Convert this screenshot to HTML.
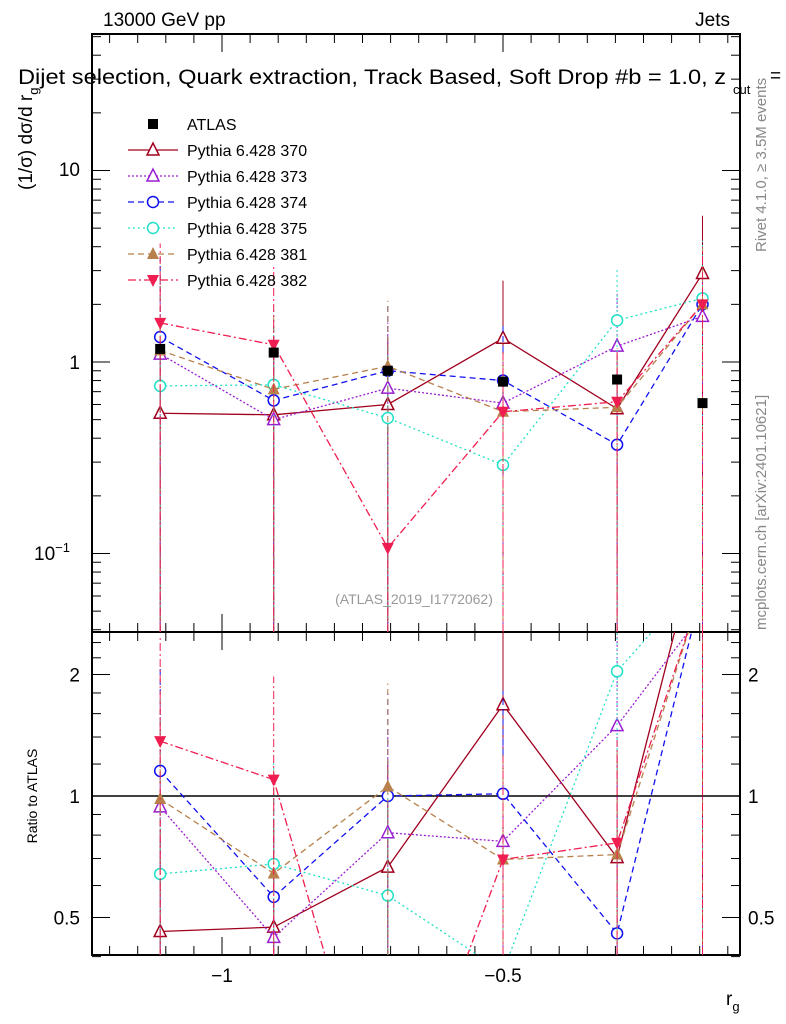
<!DOCTYPE html>
<html><head><meta charset="utf-8"><style>
html,body{margin:0;background:#fff;width:786px;height:1024px;overflow:hidden}
svg{display:block;font-family:"Liberation Sans",sans-serif}
</style></head><body>
<svg id="c" width="786" height="1024"></svg>
<script>
const xs=[-1.11,-0.908,-0.705,-0.5,-0.297,-0.145];
const atlas=[1.17,1.12,0.9,0.79,0.81,0.61];
const names=['Pythia 6.428 370','Pythia 6.428 373','Pythia 6.428 374','Pythia 6.428 375','Pythia 6.428 381','Pythia 6.428 382'];
const s370=[0.54,0.53,0.6,1.33,0.57,2.9];
const s373=[1.1,0.5,0.73,0.61,1.21,1.73];
const s374=[1.35,0.63,0.9,0.8,0.37,2.0];
const s375=[0.75,0.76,0.51,0.29,1.65,2.15];
const s381=[1.15,0.72,0.95,0.55,0.58,2.0];
const s382=[1.6,1.23,0.107,0.55,0.62,2.0];
const errUp=[2.6,2.6,2.2,2.0,1.9,2.0];
const series=[s370,s373,s374,s375,s381,s382];
const colors=['#a0001e','#9a1fd0','#1010f0','#20e0c8','#b8804a','#f01e50'];
const dashes=['','2,2','6,4','2,3','6,4','8,3,2,3'];
const mk=['tri','tri','circ','circ','ftri','itri'];
const NS='http://www.w3.org/2000/svg';
const svg=document.getElementById('c');
const L=92,R=740,T=34,MB=632,RB=955;
const X=v=>222+(v+1)*562;
const Y=v=>362-Math.log10(v)*191.5;
const YR=v=>796-Math.log2(v)*121.5;
function el(t,a,p){const e=document.createElementNS(NS,t);for(const k in a)e.setAttribute(k,a[k]);(p||svg).appendChild(e);return e;}
function txt(x,y,s,a,p){const e=el('text',Object.assign({x:x,y:y},a||{}),p);e.textContent=s;return e;}
const cm=el('clipPath',{id:'cm'});el('rect',{x:L,y:T,width:R-L,height:MB-T},cm);
const cr=el('clipPath',{id:'cr'});el('rect',{x:L,y:MB,width:R-L,height:RB-MB},cr);
const ticks=el('g',{stroke:'#000','stroke-width':1});

for(let v=-1.2;v<=-0.09;v+=0.05){const x=X(v);const maj=Math.abs(v*10-Math.round(v*10))<1e-6&&Math.round(v*10)%5==0;const len=maj?18:9;
 [T,MB].forEach(y=>el('line',{x1:x,x2:x,y1:y,y2:y+len},ticks));[MB,RB].forEach(y=>el('line',{x1:x,x2:x,y1:y,y2:y-len},ticks));}
for(let d=-2;d<=1;d++)for(let m=1;m<10;m++){const v=m*Math.pow(10,d);const y=Y(v);if(y<T||y>MB)continue;const len=m==1?18:9;
 el('line',{x1:L,x2:L+len,y1:y,y2:y},ticks);el('line',{x1:R,x2:R-len,y1:y,y2:y},ticks);}
[0.4,0.5,0.6,0.7,0.8,0.9,1,1.2,1.4,1.6,1.8,2,2.2,2.4].forEach(v=>{const y=YR(v);const len=(v==0.5||v==1||v==2)?18:9;
 el('line',{x1:L,x2:L+len,y1:y,y2:y},ticks);el('line',{x1:R,x2:R-len,y1:y,y2:y},ticks);});
el('rect',{x:L,y:T,width:R-L,height:MB-T,fill:'none',stroke:'#000','stroke-width':2,});
el('rect',{x:L,y:MB,width:R-L,height:RB-MB,fill:'none',stroke:'#000','stroke-width':2,});
el('line',{x1:L,x2:R,y1:YR(1),y2:YR(1),stroke:'#000','stroke-width':1.5,});
txt(80,176,'10',{'font-size':19,'text-anchor':'end'});
txt(80,369,'1',{'font-size':19,'text-anchor':'end'});
const t1=txt(70,560,'10',{'font-size':19,'text-anchor':'end'});const sp=el('tspan',{dy:-8,'font-size':13},t1);sp.textContent='−1';
[[2,'2'],[1,'1'],[0.5,'0.5']].forEach(([v,s])=>{txt(80,YR(v)+7,s,{'font-size':19,'text-anchor':'end'});txt(748,YR(v)+7,s,{'font-size':19});});
txt(X(-1),982,'−1',{'font-size':19,'text-anchor':'middle'});
txt(X(-0.5),982,'−0.5',{'font-size':19,'text-anchor':'middle'});
const xl=txt(726,1005,'r',{'font-size':19});const xs2=el('tspan',{dy:6,'font-size':13},xl);xs2.textContent='g';
txt(103,26,'13000 GeV pp',{'font-size':19,});
txt(730,26,'Jets',{'font-size':19,'text-anchor':'end'});
txt(18,84,'Dijet selection, Quark extraction, Track Based, Soft Drop #b = 1.0, z',{'font-size':21,textLength:708,lengthAdjust:'spacingAndGlyphs',});
txt(733,94,'cut',{'font-size':13});
txt(770,82,'=',{'font-size':19});
const yl=txt(0,0,'(1/σ) dσ/d r',{'font-size':19,transform:'translate(32,190) rotate(-90)',});
const yls=el('tspan',{dy:6,'font-size':13},yl);yls.textContent='g';
txt(0,0,'Ratio to ATLAS',{'font-size':14,'text-anchor':'middle',transform:'translate(37,796) rotate(-90)',});
txt(0,0,'Rivet 4.1.0, ≥ 3.5M events',{'font-size':15,fill:'#888',transform:'translate(766,252) rotate(-90)'});
txt(0,0,'mcplots.cern.ch [arXiv:2401.10621]',{'font-size':15,fill:'#888',transform:'translate(766,630) rotate(-90)'});
txt(414,604,'(ATLAS_2019_I1772062)',{'font-size':14,fill:'#999','text-anchor':'middle'});
function marker(g,type,x,y,c){
 if(type=='tri')el('polygon',{points:`${x},${y-7} ${x-6},${y+5} ${x+6},${y+5}`,fill:'#fff',stroke:c,'stroke-width':1.5},g);
 else if(type=='ftri')el('polygon',{points:`${x},${y-7} ${x-6},${y+5} ${x+6},${y+5}`,fill:c},g);
 else if(type=='itri')el('polygon',{points:`${x},${y+7} ${x-6},${y-5} ${x+6},${y-5}`,fill:c},g);
 else el('circle',{cx:x,cy:y,r:5.5,fill:'#fff',stroke:c,'stroke-width':1.5},g);}
series.forEach((s,i)=>{
 const c=colors[i];
 const g=el('g',{'clip-path':'url(#cm)'});
 
 
 s.forEach((v,j)=>el('line',{x1:X(xs[j]),x2:X(xs[j]),y1:MB,y2:Y(v*errUp[j]),stroke:c,'stroke-width':1,'stroke-dasharray':dashes[i]||'none'},g));
 el('polyline',{points:s.map((v,j)=>X(xs[j])+','+Y(v)).join(' '),fill:'none',stroke:c,'stroke-width':1.3,'stroke-dasharray':dashes[i]||'none'},g);
 s.forEach((v,j)=>marker(g,mk[i],X(xs[j]),Y(v),c));
 const g2=el('g',{'clip-path':'url(#cr)'});
 
 
 s.forEach((v,j)=>el('line',{x1:X(xs[j]),x2:X(xs[j]),y1:RB,y2:YR(v/atlas[j]*1.8),stroke:c,'stroke-width':1,'stroke-dasharray':dashes[i]||'none'},g2));
 el('polyline',{points:s.map((v,j)=>X(xs[j])+','+YR(v/atlas[j])).join(' '),fill:'none',stroke:c,'stroke-width':1.3,'stroke-dasharray':dashes[i]||'none'},g2);
 s.forEach((v,j)=>marker(g2,mk[i],X(xs[j]),YR(v/atlas[j]),c));
});
const ga=el('g',{});


atlas.forEach((v,j)=>el('rect',{x:X(xs[j])-5,y:Y(v)-5,width:10,height:10,fill:'#000'},ga));
const lg=el('g',{});


el('rect',{x:148,y:119,width:10,height:10,fill:'#000'},lg);
txt(187,130,'ATLAS',{'font-size':16},lg);
names.forEach((n,i)=>{const y=150+i*26;
 el('line',{x1:128,x2:178,y1:y,y2:y,stroke:colors[i],'stroke-width':1.3,'stroke-dasharray':dashes[i]||'none'},lg);
 marker(lg,mk[i],153,y,colors[i]);
 txt(187,y+6,n,{'font-size':16},lg);});
</script>
</body></html>
